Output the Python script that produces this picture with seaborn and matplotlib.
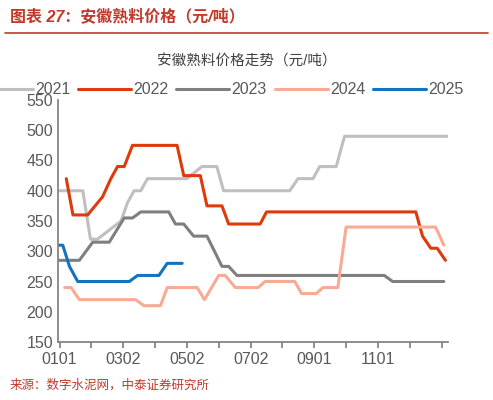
import matplotlib
matplotlib.use("Agg")
import matplotlib.pyplot as plt
import seaborn as sns
import pandas as pd

sns.set_theme(style="white")
plt.rcParams['font.family'] = ['Liberation Sans', 'Noto Sans CJK SC', 'DejaVu Sans']

years = ["2021", "2022", "2023", "2024", "2025"]
colors = ["#BFBFBF", "#DE3A0C", "#7F7F7F", "#F8AA94", "#1472BE"]
x2021 = [0,0.73,0.97,1.19,1.93,2.13,2.34,2.55,2.76,4.0,4.47,4.94,5.15,7.23,7.49,7.96,8.17,8.69,8.95,12.2]
v2021 = [400,400,320,320,350,380,400,400,420,420,440,440,400,400,420,420,440,440,490,490]
x2022 = [0.21,0.42,0.88,1.35,1.61,1.82,2.03,2.29,3.69,3.9,4.42,4.63,5.1,5.31,6.3,6.5,11.19,11.4,11.66,11.86,12.12]
v2022 = [420,360,360,390,420,440,440,475,475,425,425,375,375,345,345,365,365,325,305,305,285]
x2023 = [0,0.62,1.04,1.56,2.03,2.29,2.55,3.43,3.64,3.9,4.21,4.63,5.1,5.31,5.57,10.2,10.46,12.07]
v2023 = [285,285,315,315,355,355,365,365,345,345,325,325,275,275,260,260,250,250]
x2024 = [0.16,0.36,0.62,2.39,2.65,3.17,3.38,4.32,4.55,5.0,5.2,5.52,6.24,6.45,7.39,7.6,8.06,8.27,8.74,9.0,11.81,12.07]
v2024 = [240,240,220,220,210,210,240,240,220,260,260,240,240,250,250,230,230,240,240,340,340,310]
x2025 = [0,0.1,0.31,0.57,2.19,2.45,3.12,3.38,3.85]
v2025 = [310,310,275,250,250,260,260,280,280]
tick_pos = list(range(13))
tick_labels = ["0101","","0302","","0502","","0702","","0901","","1101","",""]

xs = [x2021, x2022, x2023, x2024, x2025]
vs = [v2021, v2022, v2023, v2024, v2025]
df = pd.concat([pd.DataFrame({"x": x, "v": v, "year": y}) for x, v, y in zip(xs, vs, years)])

fig = plt.figure(figsize=(4.93, 4.0), dpi=100)
ax = fig.add_axes([58/493, 1-342/400, (448-58)/493, (342-100)/400])
sns.lineplot(data=df, x="x", y="v", hue="year", palette=colors, linewidth=2.2, ax=ax,
             sort=False, estimator=None)
ax.set_xlim(-0.05, 12.2)
ax.set_ylim(150, 550)
ax.set_yticks(range(150, 551, 50))
ax.set_xticks(tick_pos)
ax.set_xticklabels(tick_labels)
ax.tick_params(axis='both', labelsize=11.5, colors="#595959", length=0)
ax.tick_params(axis='x', length=4, color="#808080", direction="out", bottom=True)
ax.set_xlabel(""); ax.set_ylabel("")
for s in ["top", "right"]:
    ax.spines[s].set_visible(False)
for s in ["left", "bottom"]:
    ax.spines[s].set_color("#808080")
leg = ax.legend(loc="lower center", bbox_to_anchor=(0.42, 0.985), ncol=5, frameon=False,
                fontsize=11.5, handlelength=3.3, columnspacing=0.5, handletextpad=0.15,
                borderaxespad=0)
for t in leg.get_texts():
    t.set_color("#595959")
fig.text(0.5, 1-62/400, "安徽熟料价格走势（元/吨）", ha="center", va="center", fontsize=10.5, color="#404040")
fig.text(0.02, 1-17/400, "图表 27：安徽熟料价格（元/吨）", ha="left", va="center", fontsize=11.5,
         color="#C0392B", fontweight="bold", style="italic")
fig.add_artist(plt.Line2D([0.01, 0.99], [1-33/400, 1-33/400], color="#C0392B", linewidth=1.2))
fig.text(0.02, 1-385/400, "来源：数字水泥网，中泰证券研究所", ha="left", va="center", fontsize=9,
         color="#C0392B", style="italic")
fig.savefig("out.png", dpi=100)
